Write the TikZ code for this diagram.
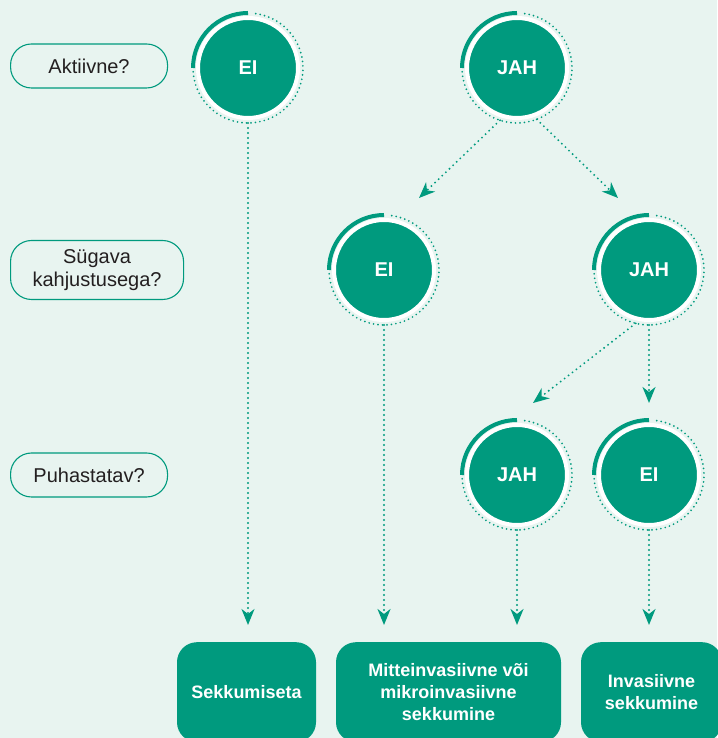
\documentclass[tikz,border=0pt]{standalone}
\usepackage{fontspec}
\setmainfont{Liberation Sans}
\usetikzlibrary{positioning, arrows.meta}
\definecolor{cgreen}{HTML}{009A7E}
\definecolor{cback}{HTML}{E8F4F0}
\definecolor{cink}{HTML}{231F20}

\begin{document}
\begin{tikzpicture}[x=1pt, y=1pt,
    answer/.style={circle, fill=cgreen, draw=white, line width=4pt, minimum size=100pt, outer sep=5pt, text=white, font=\fontsize{20}{24}\selectfont\bfseries},
    question/.style={draw=cgreen, line width=1.1pt, rounded corners=21pt, anchor=west, align=center, text=cink, font=\fontsize{20}{23}\selectfont},
    result/.style={fill=cgreen, rounded corners=20pt, anchor=north, align=center, minimum height=100pt, text=white, font=\fontsize{18}{22}\selectfont\bfseries},
    link/.style={cgreen, line width=2.1pt, dash pattern=on 0pt off 5pt, line cap=round, -{Stealth[length=16pt, width=13pt, inset=5pt]}}]
    \useasboundingbox (0,0) rectangle (717,738);
    \fill[cback] (0,0) rectangle (717,738);

    \node[question, minimum width=157pt, minimum height=44pt] (q_aktiivne) at (10,672) {Aktiivne?};
    \node[question, minimum width=173pt, minimum height=59pt] (q_sugava) at (10,468) {Sügava\\kahjustusega?};
    \node[question, minimum width=157pt, minimum height=44pt] (q_puhastatav) at (10,263) {Puhastatav?};

    \node[answer] (a_ei) at (248,670) {EI};
    \node[answer] (a_jah) at (517,670) {JAH};
    \node[answer] (s_ei) at (384,468) {EI};
    \node[answer] (s_jah) at (649,468) {JAH};
    \node[answer] (p_jah) at (517,263) {JAH};
    \node[answer] (p_ei) at (649,263) {EI};

    \node[result, minimum width=139pt] (r_sekkumiseta) at (246.5,96) {Sekkumiseta};
    \node[result, minimum width=225pt] (r_mitteinv) at (448.5,96) {Mitteinvasiivne või\\mikroinvasiivne\\sekkumine};
    \node[result, minimum width=141pt] (r_invasiivne) at (651.5,96) {Invasiivne\\sekkumine};

    % rings
    \foreach \n in {a_ei, a_jah, s_ei, s_jah, p_jah, p_ei} {
        \draw[cgreen, line width=4pt] (\n.center) ++(90:55pt) arc[start angle=90, end angle=180, radius=55pt];
        \draw[cgreen, line width=1.9pt, dash pattern=on 0pt off 4.5pt, line cap=round] (\n.center) ++(184:55pt) arc[start angle=184, end angle=446, radius=55pt];
    }

    % arrow ends
    \coordinate (row) at (0,113);
    \coordinate (to_s_ei) at (419,540);
    \coordinate (to_s_jah) at (618,540);
    \coordinate (to_p_jah) at (533,335);
    \coordinate (to_p_ei) at (649,335);

    \draw[link] (a_jah.252) -- (to_s_ei);
    \draw[link] (a_jah.291) -- (to_s_jah);
    \draw[link] (s_jah.256) -- (to_p_jah);
    \draw[link] (s_jah) -- (to_p_ei);

    \draw[link] (a_ei) -- (a_ei|-row);
    \draw[link] (s_ei) -- (s_ei|-row);
    \draw[link] (p_jah) -- (p_jah|-row);
    \draw[link] (p_ei) -- (p_ei|-row);
\end{tikzpicture}
\end{document}
